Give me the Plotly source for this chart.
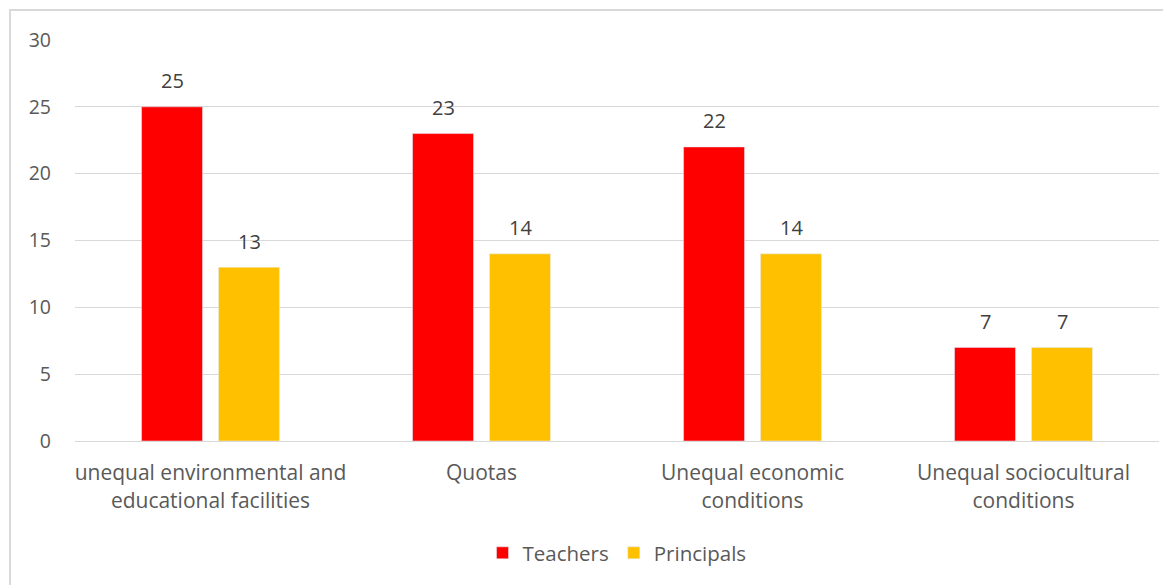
import plotly.graph_objects as go

categories = ["unequal environmental and<br>educational facilities", "Quotas",
              "Unequal economic<br>conditions", "Unequal sociocultural<br>conditions"]
teachers = [25, 23, 22, 7]
principals = [13, 14, 14, 7]

# the page body adds an 8px margin, so the figure is 8px smaller than the window
W, H = 1163, 577
L, R, T, B = 67, 12, 32, 144
pw, ph = W - L - R, H - T - B

font = "Open Sans, Segoe UI, Calibri, sans-serif"
FS = 19.5

fig = go.Figure()
fig.add_trace(go.Bar(name="Teachers", x=categories, y=teachers, marker_color="#FF0000"))
fig.add_trace(go.Bar(name="Principals", x=categories, y=principals, marker_color="#FFC000"))

# data labels, placed above each bar
for series, xs in ((teachers, -38.5), (principals, 38.5)):
    for c, v in zip(categories, series):
        fig.add_annotation(x=c, y=v, xref="x", yref="y", text=str(v), showarrow=False,
                           xshift=xs, yshift=26, yanchor="middle",
                           font=dict(size=20, color="#404040", family=font))

fig.update_layout(
    width=W, height=H,
    margin=dict(l=L, r=R, t=T, b=B, autoexpand=False),
    paper_bgcolor="white", plot_bgcolor="white",
    barmode="group", bargap=0.432, bargroupgap=0.208,
    font=dict(family=font, size=FS, color="#595959"),
    legend=dict(orientation="h", x=0.5, xanchor="center", y=-(545 - (H - B)) / ph,
                yanchor="middle",
                font=dict(size=20.5, color="#595959"), itemwidth=30, traceorder="normal"),
    showlegend=True,
)
fig.update_yaxes(range=[0, 30], dtick=5, showgrid=True, gridcolor="#d9d9d9", gridwidth=1,
                 zeroline=False, showline=False, ticks="", ticklabelstandoff=23,
                 tickfont=dict(size=FS, color="#595959"))
fig.update_xaxes(showline=True, linecolor="#d9d9d9", linewidth=1, ticks="",
                 tickfont=dict(size=21, color="#595959"), ticklabelstandoff=13)

# chart border (extends beyond right and bottom edges, as in the reference)
fig.add_shape(type="rect", xref="paper", yref="paper",
              x0=(2 - L) / pw, x1=(W + 20 - L) / pw,
              y0=-(B + 20) / ph, y1=(H - 2 - B) / ph,
              line=dict(color="#d9d9d9", width=2), fillcolor="rgba(0,0,0,0)", layer="below")

fig.write_html("out.html")
